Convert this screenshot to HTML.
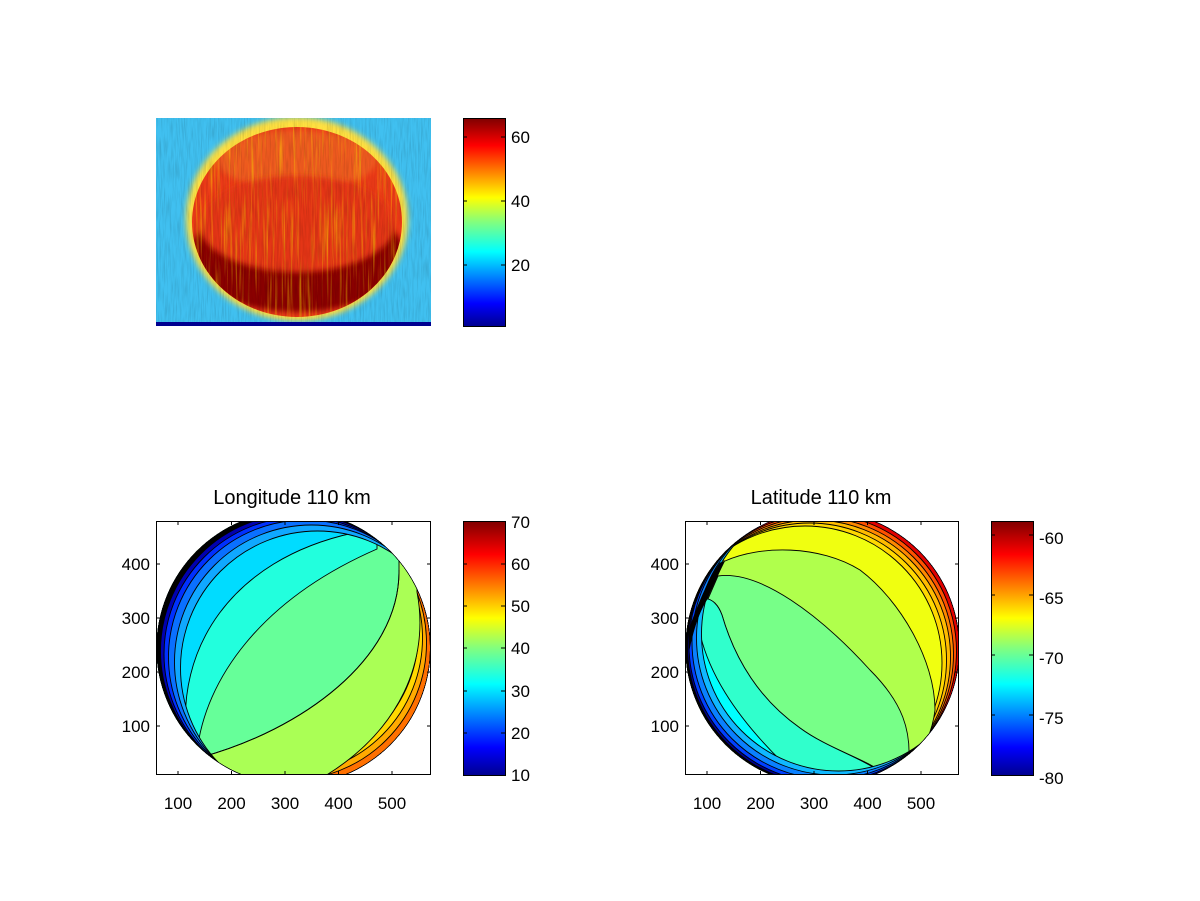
<!DOCTYPE html>
<html><head><meta charset="utf-8"><style>
html,body{margin:0;padding:0;background:#fff;}
svg{display:block;font-family:"Liberation Sans",sans-serif;}
</style></head><body>
<svg width="1200" height="901" viewBox="0 0 1200 901" xmlns="http://www.w3.org/2000/svg">
<defs>
<linearGradient id="jet" x1="0" y1="1" x2="0" y2="0">
<stop offset="0" stop-color="#00008f"/>
<stop offset="0.11" stop-color="#0000ff"/>
<stop offset="0.36" stop-color="#00ffff"/>
<stop offset="0.5" stop-color="#80ff80"/>
<stop offset="0.62" stop-color="#ffff00"/>
<stop offset="0.87" stop-color="#ff0000"/>
<stop offset="1" stop-color="#800000"/>
</linearGradient>
<clipPath id="r1"><rect x="156" y="521" width="275" height="254"/></clipPath>
<clipPath id="c1"><circle cx="293.5" cy="648" r="137"/></clipPath>
<clipPath id="r2"><rect x="685" y="521" width="274" height="254"/></clipPath>
<clipPath id="c2"><circle cx="822.5" cy="648" r="137"/></clipPath>
<clipPath id="img"><rect x="156" y="118" width="275" height="208"/></clipPath>
<clipPath id="blob"><ellipse cx="297" cy="222" rx="105" ry="95"/></clipPath>
<filter id="noise" x="0" y="0" width="100%" height="100%">
<feTurbulence type="fractalNoise" baseFrequency="0.7 0.05" numOctaves="2" seed="3"/>
<feColorMatrix type="matrix" values="0 0 0 0 0  0 0 0 0 0  0 0 0 0 0  0 0 0 -2.2 1.3"/>
</filter>
<filter id="ystreak" x="0" y="0" width="100%" height="100%">
<feTurbulence type="fractalNoise" baseFrequency="0.45 0.015" numOctaves="2" seed="7"/>
<feColorMatrix type="matrix" values="0 0 0 0 1  0 0 0 0 0.8  0 0 0 0 0  3 0 0 0 -1.5"/>
</filter>
<filter id="bl"><feGaussianBlur stdDeviation="3"/></filter>
</defs>

<!-- top image -->
<g clip-path="url(#img)">
<rect x="156" y="118" width="275" height="208" fill="#40c0f0"/>
<ellipse cx="297" cy="219" rx="111" ry="102" fill="#ffe040" filter="url(#bl)"/>
<g clip-path="url(#blob)">
<rect x="156" y="118" width="275" height="208" fill="#ec3a18"/>
<ellipse cx="297" cy="160" rx="80" ry="30" fill="#f07028" filter="url(#bl)" opacity="0.6"/>
<ellipse cx="297" cy="256" rx="108" ry="56" fill="#8a0000" filter="url(#bl)"/>
<ellipse cx="297" cy="224" rx="98" ry="48" fill="#e43418" filter="url(#bl)"/>
<rect x="156" y="118" width="275" height="208" filter="url(#ystreak)" opacity="0.45"/>
</g>
<rect x="156" y="118" width="275" height="208" fill="#000" filter="url(#noise)" opacity="0.12"/>
<rect x="156" y="322" width="275" height="4" fill="#00008f"/>
</g>
<rect x="463.5" y="118.5" width="42" height="208" fill="url(#jet)" stroke="#000"/>
<g stroke="#000"><line x1="463" y1="265" x2="467" y2="265"/><line x1="501" y1="265" x2="505" y2="265"/>
<line x1="463" y1="201" x2="467" y2="201"/><line x1="501" y1="201" x2="505" y2="201"/>
<line x1="463" y1="137" x2="467" y2="137"/><line x1="501" y1="137" x2="505" y2="137"/></g>
<g font-size="17" fill="#000"><text x="511" y="271">20</text><text x="511" y="207">40</text><text x="511" y="143">60</text></g>

<!-- left contour -->
<text x="292" y="504" font-size="20" text-anchor="middle">Longitude 110 km</text>
<g clip-path="url(#r1)"><g clip-path="url(#c1)" stroke="#000" stroke-width="0.9">
<rect x="150" y="500" width="300" height="300" fill="#ff7000" stroke="none"/>
<circle cx="289.5" cy="643" r="137" fill="#ffaa00"/>
<circle cx="285.5" cy="638" r="137" fill="#ffd800"/>
<circle cx="281.5" cy="632" r="137" fill="#ddff22"/>
<path d="M417 592 C430 660 400 730 325 776 L100 800 L100 480 L417 480 Z" fill="#aaff55"/>
<path d="M202 757 C300 730 400 660 399 570 L399 480 L100 480 L100 757 Z" fill="#66ff99"/>
<path d="M197 752 C205 680 260 600 377 549 L377 480 L100 480 L100 752 Z" fill="#22ffdd"/>
<path d="M187 743 C175 650 230 560 353 533 L353 480 L100 480 L100 743 Z" fill="#00dcff"/>
<path fill-rule="evenodd" d="M156.5 648a137 137 0 1 0 274 0a137 137 0 1 0 -274 0Z M180.5 668a137 137 0 1 0 274 0a137 137 0 1 0 -274 0Z" fill="#10a8ff"/>
<path fill-rule="evenodd" d="M156.5 648a137 137 0 1 0 274 0a137 137 0 1 0 -274 0Z M174.5 662a137 137 0 1 0 274 0a137 137 0 1 0 -274 0Z" fill="#0a70ff"/>
<path fill-rule="evenodd" d="M156.5 648a137 137 0 1 0 274 0a137 137 0 1 0 -274 0Z M168.5 657a137 137 0 1 0 274 0a137 137 0 1 0 -274 0Z" fill="#0030ff"/>
<path fill-rule="evenodd" d="M156.5 648a137 137 0 1 0 274 0a137 137 0 1 0 -274 0Z M164 654a137 137 0 1 0 274 0a137 137 0 1 0 -274 0Z" fill="#0000b0"/>
<path fill-rule="evenodd" d="M156.5 648a137 137 0 1 0 274 0a137 137 0 1 0 -274 0Z M160.5 651a137 137 0 1 0 274 0a137 137 0 1 0 -274 0Z" fill="#000"/>
<path d="M202 757 C300 730 400 660 399 570" fill="none"/>
</g></g>
<rect x="156.5" y="521.5" width="274" height="253" fill="none" stroke="#000"/>
<g stroke="#000">
<line x1="178" y1="775" x2="178" y2="771"/><line x1="231.5" y1="775" x2="231.5" y2="771"/><line x1="285" y1="775" x2="285" y2="771"/><line x1="338.5" y1="775" x2="338.5" y2="771"/><line x1="392" y1="775" x2="392" y2="771"/>
<line x1="178" y1="521" x2="178" y2="525"/><line x1="231.5" y1="521" x2="231.5" y2="525"/><line x1="285" y1="521" x2="285" y2="525"/><line x1="338.5" y1="521" x2="338.5" y2="525"/><line x1="392" y1="521" x2="392" y2="525"/>
<line x1="156" y1="564" x2="160" y2="564"/><line x1="156" y1="618" x2="160" y2="618"/><line x1="156" y1="672" x2="160" y2="672"/><line x1="156" y1="726" x2="160" y2="726"/>
<line x1="431" y1="564" x2="427" y2="564"/><line x1="431" y1="618" x2="427" y2="618"/><line x1="431" y1="672" x2="427" y2="672"/><line x1="431" y1="726" x2="427" y2="726"/>
</g>
<g font-size="17" text-anchor="middle"><text x="178" y="809">100</text><text x="231.5" y="809">200</text><text x="285" y="809">300</text><text x="338.5" y="809">400</text><text x="392" y="809">500</text></g>
<g font-size="17" text-anchor="end"><text x="150" y="570">400</text><text x="150" y="624">300</text><text x="150" y="678">200</text><text x="150" y="732">100</text></g>
<rect x="463.5" y="521.5" width="42" height="254" fill="url(#jet)" stroke="#000"/>
<g stroke="#000">
<line x1="463" y1="564" x2="467" y2="564"/><line x1="501" y1="564" x2="505" y2="564"/>
<line x1="463" y1="606" x2="467" y2="606"/><line x1="501" y1="606" x2="505" y2="606"/>
<line x1="463" y1="648" x2="467" y2="648"/><line x1="501" y1="648" x2="505" y2="648"/>
<line x1="463" y1="691" x2="467" y2="691"/><line x1="501" y1="691" x2="505" y2="691"/>
<line x1="463" y1="733" x2="467" y2="733"/><line x1="501" y1="733" x2="505" y2="733"/></g>
<g font-size="17"><text x="511" y="528">70</text><text x="511" y="570">60</text><text x="511" y="612">50</text><text x="511" y="654">40</text><text x="511" y="697">30</text><text x="511" y="739">20</text><text x="511" y="781">10</text></g>

<!-- right contour -->
<text x="821" y="504" font-size="20" text-anchor="middle">Latitude 110 km</text>
<g clip-path="url(#r2)"><g clip-path="url(#c2)" stroke="#000" stroke-width="0.9">
<rect x="680" y="500" width="300" height="300" fill="#e00000" stroke="none"/>
<circle cx="819.5" cy="651" r="137" fill="#ff5000"/>
<circle cx="816.5" cy="654" r="137" fill="#ff8800"/>
<circle cx="813.5" cy="657" r="137" fill="#ffbb00"/>
<circle cx="809.5" cy="660" r="137" fill="#ffd800"/>
<circle cx="805" cy="663" r="137" fill="#f0ff10"/>
<path d="M725 561 C760 545 820 545 860 570 C900 600 935 660 935 710 C932 735 922 752 910 765 L908 776 L600 800 L600 561 Z" fill="#b0ff4c"/>
<path d="M718 576 C760 570 820 615 870 670 C900 700 915 730 907 776 L887 776 C870 760 830 750 800 728 C760 700 735 660 722 615 C718 604 712 600 708 599 Z" fill="#77ff88"/>
<path d="M708 599 C712 600 718 604 722 615 C735 660 760 700 800 728 C830 750 870 760 887 778 L600 800 L600 599 Z" fill="#30ffcc"/>
<path d="M698 624 C705 665 730 715 798 777 L600 800 L600 624 Z" fill="#00ffff"/>
<path fill-rule="evenodd" d="M685.5 648a137 137 0 1 0 274 0a137 137 0 1 0 -274 0Z M701.5 634a137 137 0 1 0 274 0a137 137 0 1 0 -274 0Z" fill="#10b8ff"/>
<path fill-rule="evenodd" d="M685.5 648a137 137 0 1 0 274 0a137 137 0 1 0 -274 0Z M696.5 638a137 137 0 1 0 274 0a137 137 0 1 0 -274 0Z" fill="#0a80ff"/>
<path fill-rule="evenodd" d="M685.5 648a137 137 0 1 0 274 0a137 137 0 1 0 -274 0Z M692 642a137 137 0 1 0 274 0a137 137 0 1 0 -274 0Z" fill="#0040ff"/>
<path fill-rule="evenodd" d="M685.5 648a137 137 0 1 0 274 0a137 137 0 1 0 -274 0Z M689 645a137 137 0 1 0 274 0a137 137 0 1 0 -274 0Z" fill="#000090"/>
<path fill-rule="evenodd" d="M685.5 648a137 137 0 1 0 274 0a137 137 0 1 0 -274 0Z M687.5 647a137 137 0 1 0 274 0a137 137 0 1 0 -274 0Z" fill="#000"/>
<path d="M689 650 C694 625 700 610 707 599 C712 588 716 578 724 562 L720 563 C708 580 698 605 689 630 Z" fill="#000"/>
</g></g>
<rect x="685.5" y="521.5" width="273" height="253" fill="none" stroke="#000"/>
<g stroke="#000">
<line x1="707" y1="775" x2="707" y2="771"/><line x1="760.5" y1="775" x2="760.5" y2="771"/><line x1="814" y1="775" x2="814" y2="771"/><line x1="867.5" y1="775" x2="867.5" y2="771"/><line x1="921" y1="775" x2="921" y2="771"/>
<line x1="707" y1="521" x2="707" y2="525"/><line x1="760.5" y1="521" x2="760.5" y2="525"/><line x1="814" y1="521" x2="814" y2="525"/><line x1="867.5" y1="521" x2="867.5" y2="525"/><line x1="921" y1="521" x2="921" y2="525"/>
<line x1="685" y1="564" x2="689" y2="564"/><line x1="685" y1="618" x2="689" y2="618"/><line x1="685" y1="672" x2="689" y2="672"/><line x1="685" y1="726" x2="689" y2="726"/>
<line x1="959" y1="564" x2="955" y2="564"/><line x1="959" y1="618" x2="955" y2="618"/><line x1="959" y1="672" x2="955" y2="672"/><line x1="959" y1="726" x2="955" y2="726"/>
</g>
<g font-size="17" text-anchor="middle"><text x="707" y="809">100</text><text x="760.5" y="809">200</text><text x="814" y="809">300</text><text x="867.5" y="809">400</text><text x="921" y="809">500</text></g>
<g font-size="17" text-anchor="end"><text x="679" y="570">400</text><text x="679" y="624">300</text><text x="679" y="678">200</text><text x="679" y="732">100</text></g>
<rect x="991.5" y="521.5" width="42" height="254" fill="url(#jet)" stroke="#000"/>
<g stroke="#000">
<line x1="991" y1="535" x2="995" y2="535"/><line x1="1029" y1="535" x2="1033" y2="535"/>
<line x1="991" y1="595" x2="995" y2="595"/><line x1="1029" y1="595" x2="1033" y2="595"/>
<line x1="991" y1="655" x2="995" y2="655"/><line x1="1029" y1="655" x2="1033" y2="655"/>
<line x1="991" y1="715" x2="995" y2="715"/><line x1="1029" y1="715" x2="1033" y2="715"/></g>
<g font-size="17"><text x="1039" y="544">-60</text><text x="1039" y="604">-65</text><text x="1039" y="664">-70</text><text x="1039" y="724">-75</text><text x="1039" y="784">-80</text></g>
</svg>
</body></html>
